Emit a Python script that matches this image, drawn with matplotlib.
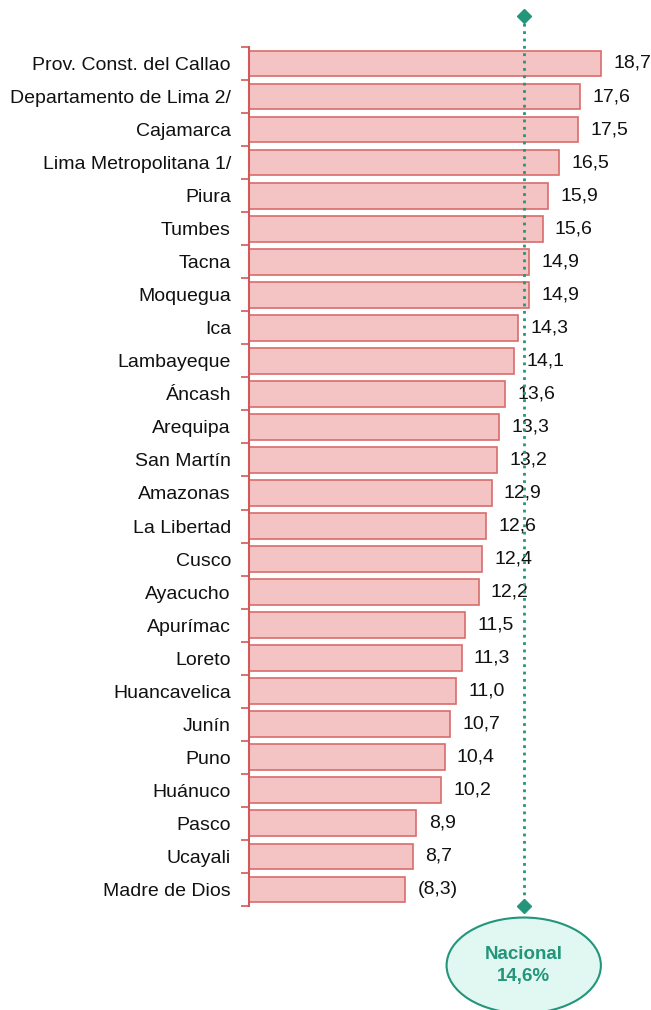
import numpy as np
import matplotlib.pyplot as plt
from matplotlib.patches import Ellipse

regiones = ["Prov. Const. del Callao", "Departamento de Lima 2/", "Cajamarca",
            "Lima Metropolitana 1/", "Piura", "Tumbes", "Tacna", "Moquegua", "Ica",
            "Lambayeque", "Áncash", "Arequipa", "San Martín", "Amazonas", "La Libertad",
            "Cusco", "Ayacucho", "Apurímac", "Loreto", "Huancavelica", "Junín", "Puno",
            "Huánuco", "Pasco", "Ucayali", "Madre de Dios"]
valores = [18.7, 17.6, 17.5, 16.5, 15.9, 15.6, 14.9, 14.9, 14.3, 14.1, 13.6, 13.3,
           13.2, 12.9, 12.6, 12.4, 12.2, 11.5, 11.3, 11.0, 10.7, 10.4, 10.2, 8.9, 8.7, 8.3]
etiquetas = [f"{v:.1f}".replace(".", ",") for v in valores]
etiquetas[-1] = "(" + etiquetas[-1] + ")"
nacional = 14.6

plt.rcParams['font.family'] = ['Liberation Sans', 'DejaVu Sans']

fig = plt.figure(figsize=(6.51, 10.10), dpi=100)
ax = fig.add_axes([0.3825, 0.103, 0.607, 0.8505])

y = np.arange(len(regiones))
ax.barh(y, valores, height=0.78, color='#f4c3c3', edgecolor='#d96c6c', linewidth=1.2)

for yi, v, t in zip(y, valores, etiquetas):
    ax.text(v + 0.65, yi, t, va='center', ha='left', fontsize=14, color='#111111')

ax.set_xlim(0, 21)
ax.set_ylim(len(regiones) - 0.5, -0.5)

ax.set_yticks(y)
ax.set_yticklabels(regiones, fontsize=14, color='#111111')
ax.tick_params(axis='y', which='major', length=0, pad=13)
ax.set_yticks(np.arange(-0.5, len(regiones), 1.0), minor=True)
ax.tick_params(axis='y', which='minor', length=6, color='#d05a5a', width=1.2)
ax.set_xticks([])

for s in ['top', 'right', 'bottom']:
    ax.spines[s].set_visible(False)
ax.spines['left'].set_color('#d05a5a')
ax.spines['left'].set_linewidth(1.5)

# linea del promedio nacional
verde = '#23957a'
ax.plot([nacional, nacional], [-1.44, 25.5], linestyle=':', color=verde,
        linewidth=2, clip_on=False, zorder=3)
ax.plot([nacional, nacional], [-1.44, 25.5], linestyle='none', marker='D',
        markersize=7, color=verde, clip_on=False, zorder=4)

elipse = Ellipse((nacional, 27.3), width=8.2, height=2.9, facecolor='#e0f7f2',
                 edgecolor=verde, linewidth=1.5, clip_on=False, zorder=4)
ax.add_patch(elipse)
ax.text(nacional, 27.3, "Nacional\n14,6%", ha='center', va='center', fontsize=13.5,
        fontweight='bold', color=verde, linespacing=1.4, zorder=5)

fig.savefig('out.png', dpi=100)
